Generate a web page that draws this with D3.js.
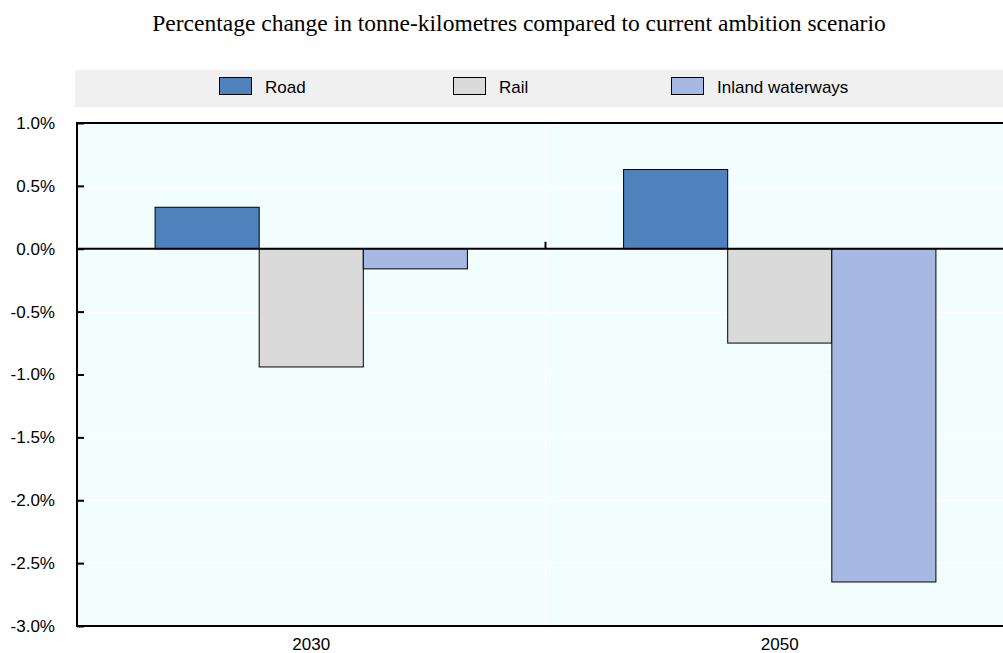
<!DOCTYPE html>
<html>
<head>
<meta charset="utf-8">
<script src="https://cdn.jsdelivr.net/npm/d3@7"></script>
<style>
  body { margin: 0; background: #fff; }
  svg { display: block; }
</style>
</head>
<body>
<div class="chart"></div>
<script>
(function(){

  var years = ['2030', '2050'];
  var modes = ['Road', 'Rail', 'Inland waterways'];
  var road = [0.33, 0.63];
  var rail = [-0.94, -0.75];
  var inland = [-0.16, -2.65];
  var yTicks = [1.0, 0.5, 0.0, -0.5, -1.0, -1.5, -2.0, -2.5, -3.0];
  var colors = ['#4f81bd', '#dadada', '#a7b8e2'];

  var series = [road, rail, inland];
  var rows = years.map(function(y, i){
    return { year: y, vals: modes.map(function(m, j){ return { mode: m, idx: j, v: series[j][i] }; }) };
  });

  var W = 1003, H = 653;
  var m = { left: 77, right: -11, top: 123, bottom: 27 };
  var sans = '"Liberation Sans", Arial, sans-serif';

  var svg = d3.select('.chart').append('svg')
    .attr('width', W)
    .attr('height', H);

  // title
  svg.append('text')
    .attr('x', 519).attr('y', 31)
    .attr('text-anchor', 'middle')
    .attr('font-family', '"Liberation Serif", "Times New Roman", serif')
    .attr('font-size', 23.5)
    .attr('fill', '#000')
    .text('Percentage change in tonne-kilometres compared to current ambition scenario');

  // legend
  svg.append('rect')
    .attr('x', 75).attr('y', 70).attr('width', W - 75).attr('height', 37)
    .attr('fill', '#f0f0f0');

  var legX = [219, 453, 671];
  var leg = svg.selectAll('.leg').data(modes).enter().append('g')
    .attr('transform', function(d, i){ return 'translate(' + legX[i] + ',77)'; });
  leg.append('rect')
    .attr('x', 0.5).attr('y', 0.5).attr('width', 32).attr('height', 17)
    .attr('fill', function(d, i){ return colors[i]; })
    .attr('stroke', '#000').attr('stroke-width', 1);
  leg.append('text')
    .attr('x', 46).attr('y', 16)
    .attr('font-family', sans)
    .attr('font-size', 17)
    .text(function(d){ return d; });

  var x0 = d3.scaleBand().domain(years).range([m.left, W - m.right]).paddingInner(0).paddingOuter(0);
  var bw = x0.bandwidth() * 2 / 3;
  var x1 = d3.scaleBand().domain(modes).range([(x0.bandwidth() - bw) / 2, (x0.bandwidth() + bw) / 2]);
  var y = d3.scaleLinear().domain([-3, 1]).range([H - m.bottom, m.top]);

  // plot background
  svg.append('rect')
    .attr('x', m.left).attr('y', m.top)
    .attr('width', W - m.left).attr('height', y(-3) - m.top)
    .attr('fill', '#f2fefe');

  // grid
  svg.selectAll('.grid').data(yTicks).enter().append('line')
    .attr('x1', m.left).attr('x2', W)
    .attr('y1', function(d){ return Math.round(y(d)) + 0.5; })
    .attr('y2', function(d){ return Math.round(y(d)) + 0.5; })
    .attr('stroke', '#fff').attr('stroke-width', 1.5);
  svg.append('line')
    .attr('x1', x0('2050') + 0.5).attr('x2', x0('2050') + 0.5)
    .attr('y1', m.top).attr('y2', y(-3))
    .attr('stroke', '#fff').attr('stroke-width', 1.5);

  // bars
  var groups = svg.selectAll('.grp').data(rows).enter().append('g')
    .attr('transform', function(d){ return 'translate(' + x0(d.year) + ',0)'; });
  groups.selectAll('rect').data(function(d){ return d.vals; }).enter().append('rect')
    .attr('x', function(d){ return x1(d.mode); })
    .attr('width', x1.bandwidth())
    .attr('y', function(d){ return y(Math.max(0, d.v)); })
    .attr('height', function(d){ return Math.abs(y(d.v) - y(0)); })
    .attr('fill', function(d){ return colors[d.idx]; })
    .attr('stroke', '#000').attr('stroke-width', 1);

  // axes
  var yAxis = d3.axisLeft(y).tickValues(yTicks)
    .tickSize(-7).tickPadding(22)
    .tickFormat(function(d){ return d3.format('.1f')(d).replace('\u2212', '-') + '%'; });
  var gy = svg.append('g')
    .attr('transform', 'translate(' + m.left + ',0)')
    .call(yAxis);
  gy.select('.domain').remove();
  gy.selectAll('.tick line').attr('stroke', '#000').attr('stroke-width', 2);
  gy.selectAll('.tick text')
    .attr('font-family', sans)
    .attr('font-size', 17).attr('fill', '#000')
    .attr('x', -22);

  // axis frame lines
  svg.append('line')
    .attr('x1', m.left).attr('x2', m.left)
    .attr('y1', m.top - 1).attr('y2', y(-3) + 1)
    .attr('stroke', '#000').attr('stroke-width', 2);
  svg.append('line')
    .attr('x1', m.left - 1).attr('x2', W)
    .attr('y1', m.top).attr('y2', m.top)
    .attr('stroke', '#000').attr('stroke-width', 2);
  svg.append('line')
    .attr('x1', m.left - 1).attr('x2', W)
    .attr('y1', y(-3)).attr('y2', y(-3))
    .attr('stroke', '#000').attr('stroke-width', 2);
  svg.append('line')
    .attr('x1', m.left).attr('x2', W)
    .attr('y1', y(0)).attr('y2', y(0))
    .attr('stroke', '#000').attr('stroke-width', 2);
  // category boundary tick on zero line
  svg.append('line')
    .attr('x1', x0('2050')).attr('x2', x0('2050'))
    .attr('y1', y(0)).attr('y2', y(0) - 7)
    .attr('stroke', '#000').attr('stroke-width', 2);

  // x labels
  svg.selectAll('.xl').data(years).enter().append('text')
    .attr('x', function(d){ return x0(d) + x0.bandwidth() / 2; })
    .attr('y', y(-3) + 24)
    .attr('text-anchor', 'middle')
    .attr('font-family', sans)
    .attr('font-size', 17)
    .text(function(d){ return d; });

}());
</script>
</body>
</html>
